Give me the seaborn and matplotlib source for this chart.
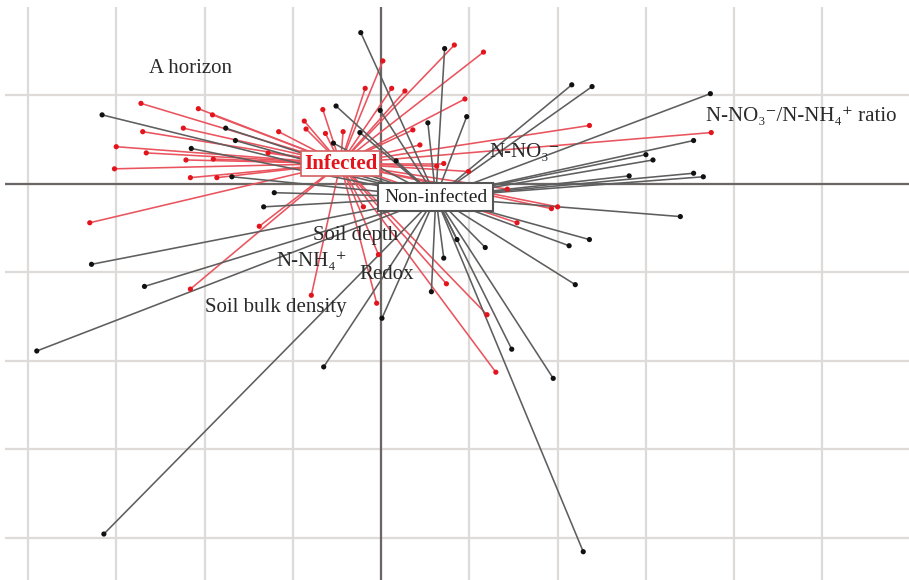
import matplotlib
matplotlib.use("Agg")
import matplotlib.pyplot as plt
import seaborn as sns
import pandas as pd

# group centroids (ordination scores)
infected_centroid = (-0.46, 0.23)
noninfected_centroid = (0.62, -0.15)

# individual samples, Infected
infected_x = [-2.72, -2.07, -1.91, -2.24, -2.70, -3.00, -2.66, -2.21, -1.90, -3.02,
              -2.16, -1.86, -1.16, -0.87, -0.85, -0.66, -0.63, -0.43, -0.18, 0.12,
              0.27, 0.02, 0.83, 1.16, 0.95, 0.36, 0.44, 0.63, 0.71, 0.99,
              1.43, 2.00, 1.93, 1.54, 2.36, 3.74, -3.30, -1.38, -0.03, 0.74,
              1.20, 1.30, -2.16, -0.79, -0.05, -0.20, -1.28]
infected_y = [0.91, 0.85, 0.78, 0.63, 0.59, 0.42, 0.35, 0.27, 0.28, 0.17,
              0.07, 0.07, 0.59, 0.71, 0.62, 0.84, 0.57, 0.59, 1.08, 1.08,
              1.05, 1.39, 1.57, 1.49, 0.96, 0.61, 0.44, 0.20, 0.23, 0.14,
              -0.06, -0.26, -0.28, -0.44, 0.66, 0.58, -0.44, -0.48, -0.80, -1.13,
              -1.48, -2.13, -1.19, -1.26, -1.35, -0.26, 0.35]

# individual samples, Non-infected
noninf_x = [-3.16, -1.76, -1.65, -2.15, -1.69, -1.21, -1.33, -3.28, -2.68, -3.90,
            -3.14, -0.65, 0.01, -0.54, -0.24, -0.51, -0.23, 0.72, -0.01, 0.53,
            0.97, 0.17, 2.16, 2.39, 3.73, 3.54, 3.00, 3.08, 2.81, 3.54,
            3.65, 3.39, 2.36, 2.13, 1.18, 0.86, 0.71, 2.20, 0.57, 1.48,
            1.95, 2.29]
noninf_y = [0.78, 0.63, 0.49, 0.40, 0.08, -0.10, -0.26, -0.91, -1.16, -1.89,
            -3.96, -2.07, -1.52, 0.46, 0.58, 0.88, 1.71, 1.53, 0.83, 0.69,
            0.76, 0.26, 1.12, 1.10, 1.02, 0.49, 0.33, 0.27, 0.09, 0.12,
            0.08, -0.37, -0.63, -0.70, -0.72, -0.63, -0.84, -1.14, -1.22, -1.87,
            -2.20, -4.16]

groups = ["Infected", "Non-infected"]
line_colors = {"Infected": "#e9545e", "Non-infected": "#5e5e5e"}
point_colors = {"Infected": "#e3141c", "Non-infected": "#111111"}

# build tables
pts = pd.concat([
    pd.DataFrame({"x": infected_x, "y": infected_y, "group": "Infected"}),
    pd.DataFrame({"x": noninf_x, "y": noninf_y, "group": "Non-infected"}),
], ignore_index=True)
cents = {"Infected": infected_centroid, "Non-infected": noninfected_centroid}

rows = []
for i, r in pts.iterrows():
    cx, cy = cents[r["group"]]
    rows.append({"seg": i, "x": cx, "y": cy, "group": r["group"]})
    rows.append({"seg": i, "x": r["x"], "y": r["y"], "group": r["group"]})
segs = pd.DataFrame(rows)

sns.set_theme(style="white")
plt.rcParams["font.family"] = ["Liberation Serif", "DejaVu Serif"]

fig = plt.figure(figsize=(9.09, 5.80), dpi=100)
ax = fig.add_axes([5 / 909, 0, 904 / 909, 573 / 580])

# grid + axes through origin
ax.set_xlim(-4.26, 5.98)
ax.set_ylim(-4.48, 2.0)
ax.set_xticks(range(-4, 6))
ax.set_yticks(range(-4, 2))
ax.grid(True, color="#dedad8", lw=1.6)
ax.tick_params(length=0, labelbottom=False, labelleft=False)
for s in ax.spines.values():
    s.set_visible(False)
ax.axhline(0, color="#6a6664", lw=1.6, zorder=1.5)
ax.axvline(0, color="#6a6664", lw=1.6, zorder=1.5)

# spokes from samples to centroid
sns.lineplot(data=segs, x="x", y="y", units="seg", estimator=None, sort=False,
             hue="group", hue_order=groups, palette=line_colors, lw=1.15,
             legend=False, ax=ax, zorder=2)
sns.scatterplot(data=pts, x="x", y="y", hue="group", hue_order=groups,
                palette=point_colors, s=14, edgecolor="none", legend=False,
                ax=ax, zorder=3)
ax.set_xlabel("")
ax.set_ylabel("")

# group labels at centroids
ax.text(*infected_centroid, "Infected", color="#e3141c", fontsize=15,
        fontweight="bold", ha="center", va="center", zorder=5,
        bbox=dict(boxstyle="square,pad=0.12", fc="white", ec="#d46060", lw=1.2))
ax.text(*noninfected_centroid, "Non-infected", color="#222222", fontsize=14,
        ha="center", va="center", zorder=5,
        bbox=dict(boxstyle="square,pad=0.3", fc="white", ec="#555555", lw=1.5))

# variable labels
lab = dict(color="#2a2a2a", fontsize=15, ha="left", va="center", zorder=4)
ax.text(-2.63, 1.30, "A horizon", **lab)
ax.text(3.68, 0.76, "N-NO\u2083\u207b/N-NH\u2084\u207a ratio", **lab)
ax.text(1.23, 0.35, "N-NO\u2083\u207b", **lab)
ax.text(-0.77, -0.58, "Soil depth", **lab)
ax.text(-1.19, -0.88, "N-NH\u2084\u207a", **lab)
ax.text(-0.25, -1.02, "Redox", **lab)
ax.text(-1.99, -1.40, "Soil bulk density", **lab)

fig.savefig("out.png", dpi=100, facecolor="white")
